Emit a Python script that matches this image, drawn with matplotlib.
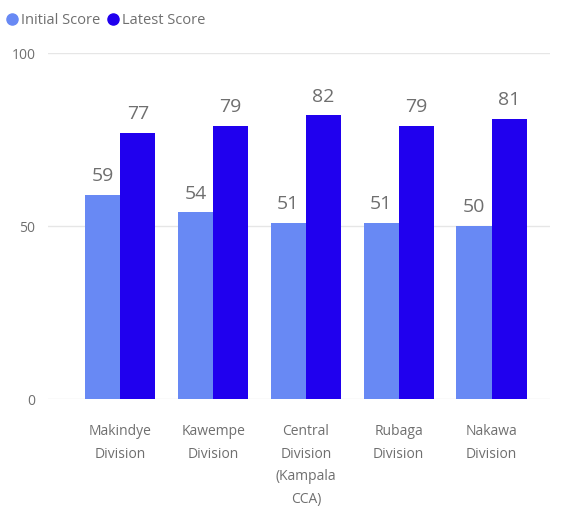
import numpy as np
import matplotlib
matplotlib.use("Agg")
import matplotlib.pyplot as plt
from matplotlib.lines import Line2D

# data
divisions = ["Makindye\nDivision", "Kawempe\nDivision", "Central\nDivision\n(Kampala\nCCA)",
             "Rubaga\nDivision", "Nakawa\nDivision"]
initial_score = [59, 54, 51, 51, 50]
latest_score = [77, 79, 82, 79, 81]
yticks = [0, 50, 100]

c_initial = "#6889F4"
c_latest = "#2000EE"
grey = "#6f6f6f"

plt.rcParams["font.family"] = ["Open Sans", "DejaVu Sans"]

fig = plt.figure(figsize=(5.76, 5.11), dpi=100)
ax = fig.add_axes([0.083, 0.219, 0.872, 0.677])

x = np.arange(len(divisions))
w = 0.378
b1 = ax.bar(x - w / 2, initial_score, w, color=c_initial)
b2 = ax.bar(x + w / 2, latest_score, w, color=c_latest)

# value labels above the bars
for bars, vals in ((b1, initial_score), (b2, latest_score)):
    for r, v in zip(bars, vals):
        ax.annotate(str(v), (r.get_x() + r.get_width() / 2, v), xytext=(0, 7),
                    textcoords="offset points", ha="center", va="bottom",
                    fontsize=14, color=grey)

ax.set_xlim(-0.78, 4.63)
ax.set_ylim(0, 100)
ax.set_yticks(yticks)
ax.set_xticks(x)
ax.set_xticklabels(divisions, linespacing=1.7)
ax.tick_params(axis="both", length=0, colors=grey, labelsize=10)
ax.tick_params(axis="y", pad=9)
ax.tick_params(axis="x", pad=18)
ax.grid(axis="y", color="#e6e6e6", linewidth=1)
ax.set_axisbelow(True)
for s in ax.spines.values():
    s.set_visible(False)

handles = [Line2D([], [], marker="o", linestyle="", markersize=8, color=c_initial),
           Line2D([], [], marker="o", linestyle="", markersize=8, color=c_latest)]
fig.legend(handles, ["Initial Score", "Latest Score"], loc="upper left",
           bbox_to_anchor=(-0.022, 1.005), ncol=2, frameon=False, fontsize=10.5,
           labelcolor=grey, handletextpad=0.0, columnspacing=0.3,
           borderpad=0.6, handlelength=1.2)

fig.savefig("out.png", dpi=100)
